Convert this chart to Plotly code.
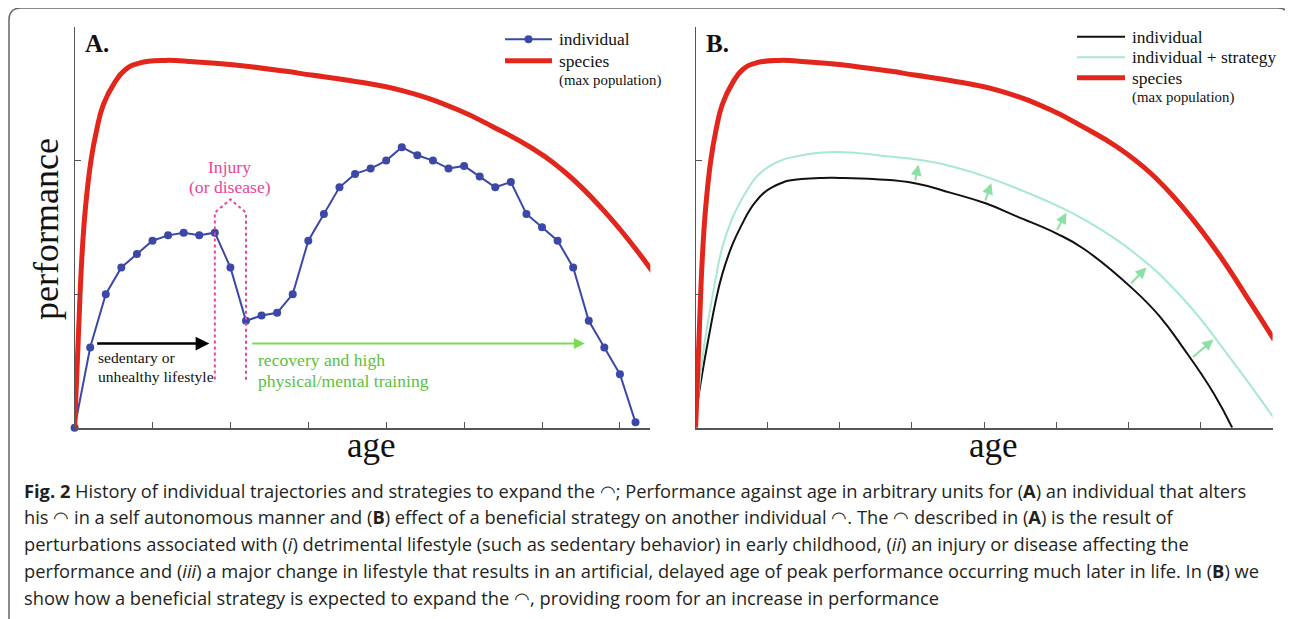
import plotly.graph_objects as go

# ---- data (arbitrary units) ----
# Panel A: individual trajectory (points every 0.2 age units)
age_a = [0.0, 0.2, 0.4, 0.6, 0.8, 1.0, 1.2, 1.4, 1.6, 1.8, 2.0, 2.2, 2.4, 2.6, 2.8,
         3.0, 3.2, 3.4, 3.6, 3.8, 4.0, 4.2, 4.4, 4.6, 4.8, 5.0, 5.2, 5.4, 5.6, 5.8,
         6.0, 6.2, 6.4, 6.6, 6.8, 7.0, 7.2]
perf_a = [0.0, 0.60, 1.00, 1.20, 1.30, 1.40, 1.44, 1.46, 1.44, 1.46, 1.20, 0.80, 0.84,
          0.86, 1.00, 1.40, 1.60, 1.80, 1.90, 1.94, 2.00, 2.10, 2.04, 2.00, 1.94, 1.96,
          1.88, 1.80, 1.84, 1.60, 1.50, 1.40, 1.20, 0.80, 0.60, 0.40, 0.04]

# species (max population) curve, shared by both panels
species_age = [0, 0.046, 0.093, 0.14, 0.21, 0.28, 0.37, 0.51, 0.65, 0.83, 1.16, 1.53,
               1.99, 2.69, 3.04, 3.53, 4.23, 4.92, 5.38, 5.85, 6.31, 6.77, 7.24, 7.70,
               8.02]
species_perf = [0, 0.65, 1.27, 1.65, 2.0, 2.22, 2.42, 2.58, 2.68, 2.73, 2.75, 2.74,
                2.72, 2.67, 2.64, 2.60, 2.52, 2.38, 2.25, 2.10, 1.905, 1.64, 1.31, 0.93,
                0.66]

# Panel B: individual and individual + strategy
indiv_age = [0, 0.02, 0.09, 0.19, 0.28, 0.37, 0.51, 0.65, 0.74, 0.83, 0.95, 1.06, 1.18,
             1.30, 1.76, 1.99, 2.5, 3.04, 3.53, 4.02, 4.46, 5.0, 5.38, 6.08, 6.44, 6.77,
             7.18, 7.44]
indiv_perf = [0, 0.15, 0.40, 0.70, 0.95, 1.15, 1.37, 1.53, 1.62, 1.69, 1.76, 1.80, 1.83,
              1.85, 1.87, 1.87, 1.86, 1.83, 1.76, 1.68, 1.58, 1.455, 1.34, 1.03, 0.83,
              0.59, 0.26, 0]
strat_age = [0, 0.09, 0.19, 0.28, 0.37, 0.51, 0.65, 0.74, 0.83, 0.95, 1.06, 1.18, 1.30,
             1.76, 2.13, 2.69, 3.04, 3.53, 4.02, 4.46, 5.0, 5.38, 6.08, 6.77, 7.4, 8.02]
strat_perf = [0, 0.50, 0.85, 1.12, 1.35, 1.57, 1.72, 1.80, 1.87, 1.93, 1.97, 2.00, 2.02,
              2.06, 2.06, 2.03, 2.01, 1.96, 1.88, 1.79, 1.665, 1.56, 1.31, 0.96, 0.53,
              0.07]

# small green arrows in panel B (tail on individual, head toward strategy curve)
arrow_tail_age = [3.04, 4.01, 5.00, 6.02, 6.875]
arrow_tail_perf = [1.84, 1.69, 1.47, 1.07, 0.52]
arrow_head_age = [3.09, 4.10, 5.14, 6.25, 7.18]
arrow_head_perf = [1.97, 1.83, 1.61, 1.20, 0.66]

# injury bracket in panel A
injury_age = [1.8, 1.8, 2.0, 2.2, 2.2]
injury_perf = [0.36, 1.61, 1.71, 1.61, 0.34]

ARC = "◠"
caption_lines = [
    f"<b>Fig. 2</b> History of individual trajectories and strategies to expand the {ARC}; "
    "Performance against age in arbitrary units for (<b>A</b>) an individual that alters",
    f"his {ARC} in a self autonomous manner and (<b>B</b>) effect of a beneficial strategy on "
    f"another individual {ARC}. The {ARC} described in (<b>A</b>) is the result of",
    "perturbations associated with (<i>i</i>) detrimental lifestyle (such as sedentary "
    "behavior) in early childhood, (<i>ii</i>) an injury or disease affecting the",
    "performance and (<i>iii</i>) a major change in lifestyle that results in an artificial, "
    "delayed age of peak performance occurring much later in life. In (<b>B</b>) we",
    f"show how a beneficial strategy is expected to expand the {ARC}, providing room for an "
    "increase in performance",
]

# page body adds an 8px margin, so the figure is drawn 8px in from the window
OFF = 8
W, H = 1293 - OFF, 619 - OFF
RED = "#e2261c"
BLUE = "#3b48a8"
TEAL = "#a6e9cf"
PINK = "#e8449a"
INK = "#111111"
SERIF = "Liberation Serif, Times New Roman, serif"


def px(x):
    return (x - OFF) / W


def py(y):
    return 1 - (y - OFF) / H


def smooth(color, width):
    return dict(color=color, width=width, shape="spline", smoothing=1.3)


fig = go.Figure()

# ---- panel A ----
fig.add_trace(go.Scatter(
    x=age_a, y=perf_a, mode="lines+markers", name="individual",
    line=dict(color=BLUE, width=2), marker=dict(color=BLUE, size=8),
    cliponaxis=False, xaxis="x", yaxis="y"))
fig.add_trace(go.Scatter(
    x=species_age, y=species_perf, mode="lines", name="species",
    line=smooth(RED, 5), xaxis="x", yaxis="y"))
fig.add_trace(go.Scatter(
    x=injury_age, y=injury_perf, mode="lines", name="injury",
    line=dict(color=PINK, width=2, dash="dot"), xaxis="x", yaxis="y"))

# ---- panel B ----
fig.add_trace(go.Scatter(
    x=indiv_age, y=indiv_perf, mode="lines", name="individual",
    line=smooth(INK, 2), xaxis="x2", yaxis="y2"))
fig.add_trace(go.Scatter(
    x=strat_age, y=strat_perf, mode="lines", name="individual + strategy",
    line=smooth(TEAL, 2), xaxis="x2", yaxis="y2"))
fig.add_trace(go.Scatter(
    x=species_age, y=species_perf, mode="lines", name="species",
    line=smooth(RED, 5), xaxis="x2", yaxis="y2"))

annotations = []

for ta, tp, ha, hp in zip(arrow_tail_age, arrow_tail_perf, arrow_head_age, arrow_head_perf):
    annotations.append(dict(
        x=ha, y=hp, ax=ta, ay=tp, xref="x2", yref="y2", axref="x2", ayref="y2",
        text="", showarrow=True, arrowhead=2, arrowsize=1.1, arrowwidth=2,
        arrowcolor="#8ddfa6"))

# arrows and notes in panel A
annotations.append(dict(x=1.73, y=0.63, ax=0.27, ay=0.63, xref="x", yref="y",
                        axref="x", ayref="y", text="", showarrow=True, arrowhead=2,
                        arrowsize=1.1, arrowwidth=2.5, arrowcolor="#000000"))
annotations.append(dict(x=6.55, y=0.63, ax=2.26, ay=0.63, xref="x", yref="y",
                        axref="x", ayref="y", text="", showarrow=True, arrowhead=2,
                        arrowsize=1.1, arrowwidth=2, arrowcolor="#7ed957"))

notes = [
    ("x", "y", 0.27, 0.525, "sedentary or", "left", 15.6, INK),
    ("x", "y", 0.27, 0.385, "unhealthy lifestyle", "left", 15.6, INK),
    ("x", "y", 2.33, 0.51, "recovery and high", "left", 17.6, "#5cbf3b"),
    ("x", "y", 2.33, 0.35, "physical/mental training", "left", 17.6, "#5cbf3b"),
    ("x", "y", 1.99, 1.955, "Injury", "center", 17.6, PINK),
    ("x", "y", 1.99, 1.80, "(or disease)", "center", 17.6, PINK),
    ("x", "y", 0.11, 2.88, "<b>A.</b>", "left", 25, INK),
    ("x2", "y2", 0.11, 2.88, "<b>B.</b>", "left", 25, INK),
]
for xr, yr, x, y, t, anc, sz, col in notes:
    annotations.append(dict(x=x, y=y, xref=xr, yref=yr, text=t, showarrow=False,
                            xanchor=anc, yanchor="middle",
                            font=dict(family=SERIF, size=sz, color=col)))

# axis titles
annotations.append(dict(x=px(46), y=py(229), xref="paper", yref="paper", text="performance",
                        textangle=-90, showarrow=False, xanchor="center", yanchor="middle",
                        font=dict(family=SERIF, size=36, color=INK)))
for cx in (371, 993):
    annotations.append(dict(x=px(cx), y=py(445), xref="paper", yref="paper", text="age",
                            showarrow=False, xanchor="center", yanchor="middle",
                            font=dict(family=SERIF, size=35, color=INK)))

# hand-placed legends (pixel positions of the original figure)
shapes = []
legend_rows = [
    # (line x0, x1, line y, colour, width, text x, text y, text, text size)
    (505, 552, 39.3, BLUE, 2, 557, 39.3, "individual", 17.4),
    (505, 552, 60.7, RED, 5, 557, 60.7, "species", 17.4),
    (None, None, None, None, None, 557, 80.5, "(max population)", 14.8),
    (1077, 1125, 36.7, INK, 2, 1130, 36.7, "individual", 17.4),
    (1077, 1125, 57.3, TEAL, 2, 1130, 57.3, "individual + strategy", 17.4),
    (1077, 1125, 77.7, RED, 5, 1130, 77.7, "species", 17.4),
    (None, None, None, None, None, 1130, 97.5, "(max population)", 14.8),
]
for x0, x1, ly, col, lw, tx, ty, t, sz in legend_rows:
    if x0 is not None:
        shapes.append(dict(type="line", xref="paper", yref="paper", x0=px(x0), x1=px(x1),
                           y0=py(ly), y1=py(ly), line=dict(color=col, width=lw)))
    annotations.append(dict(x=px(tx), y=py(ty), xref="paper", yref="paper", text=t,
                            showarrow=False, xanchor="left", yanchor="middle",
                            font=dict(family=SERIF, size=sz, color=INK)))
# marker on the "individual" legend line of panel A
shapes.append(dict(type="circle", xref="paper", yref="paper", x0=px(524.5), x1=px(532.5),
                   y0=py(43.3), y1=py(35.3), fillcolor=BLUE, line=dict(width=0)))

# caption
for i, line in enumerate(caption_lines):
    annotations.append(dict(x=px(22), y=py(490 + i * 26.8), xref="paper", yref="paper",
                            text=line, showarrow=False, xanchor="left", yanchor="middle",
                            font=dict(family="Open Sans, sans-serif", size=18.3,
                                      color="#231f20")))

# rounded frame around the figure
shapes.append(dict(type="path", xref="paper", yref="paper",
                   path=(f"M {px(9)},{py(619)} L {px(9)},{py(20)} Q {px(9)},{py(8)} "
                         f"{px(21)},{py(8)} L {px(1278)},{py(8)} Q {px(1290)},{py(8)} "
                         f"{px(1290)},{py(22)}"),
                   line=dict(color="#666666", width=1.5)))

axis_common = dict(showgrid=False, zeroline=False, showline=True, linecolor="#555555",
                   ticks="inside", ticklen=6, tickcolor="#555555", showticklabels=False,
                   fixedrange=True)

fig.update_layout(
    width=W, height=H, margin=dict(l=0, r=0, t=0, b=0),
    paper_bgcolor="white", plot_bgcolor="white", showlegend=False,
    xaxis=dict(domain=[px(74.6), px(650.3)], range=[0, 7.39], tickvals=[1, 2, 3, 4, 5, 6, 7],
               linewidth=2, anchor="y", **axis_common),
    yaxis=dict(domain=[py(427.7), py(27)], range=[0, 3], tickvals=[1, 2, 3],
               linewidth=1.2, anchor="x", **axis_common),
    xaxis2=dict(domain=[px(695.6), px(1272.6)], range=[0, 8],
                tickvals=[1, 2, 3, 4, 5, 6, 7, 8], linewidth=2, anchor="y2", **axis_common),
    yaxis2=dict(domain=[py(427.7), py(27)], range=[0, 3], tickvals=[1, 2, 3],
                linewidth=1.2, anchor="x2", **axis_common),
    annotations=annotations,
    shapes=shapes,
)

fig.write_html("out.html")
